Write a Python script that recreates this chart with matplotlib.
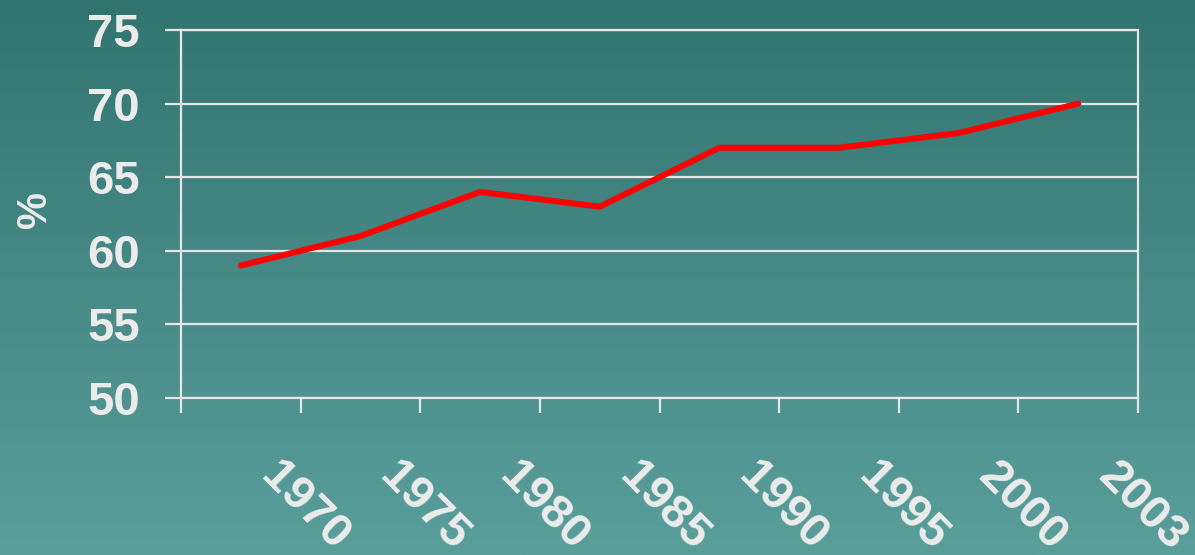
import matplotlib.pyplot as plt
import matplotlib.transforms as mtransforms
from matplotlib.colors import LinearSegmentedColormap
import numpy as np

years = ["1970", "1975", "1980", "1985", "1990", "1995", "2000", "2003"]
values = [59, 61, 64, 63, 67, 67, 68, 70]
y_ticks = [50, 55, 60, 65, 70, 75]

TXT = "#ebebeb"
LINE = "#e6e6e6"

plt.rcParams["font.family"] = ["Liberation Sans", "DejaVu Sans"]
plt.rcParams["font.weight"] = "bold"

fig = plt.figure(figsize=(11.95, 5.55), dpi=100)

# background gradient
bg = fig.add_axes([0, 0, 1, 1], zorder=-10)
cmap = LinearSegmentedColormap.from_list("bg", ["#327470", "#5a9e9b"])
bg.imshow(np.linspace(0, 1, 256).reshape(-1, 1), aspect="auto", cmap=cmap,
          extent=[0, 1, 0, 1])
bg.axis("off")

ax = fig.add_axes([181 / 1195, 1 - 398 / 555, (1138 - 181) / 1195, (398 - 30) / 555])
ax.patch.set_alpha(0)

x = np.arange(len(years))
ax.plot(x, values, color="#ff0000", lw=4.3, solid_capstyle="round",
        solid_joinstyle="round", zorder=5)

ax.set_xlim(-0.5, len(years) - 0.5)
ax.set_ylim(50, 75)
ax.set_yticks(y_ticks)
ax.yaxis.grid(True, color=LINE, lw=1.6)
ax.set_axisbelow(True)

for s in ax.spines.values():
    s.set_color(LINE)
    s.set_linewidth(1.6)

ax.tick_params(axis="y", colors=LINE, labelcolor=TXT, labelsize=34,
               length=11.5, width=1.6, pad=18)
ax.set_yticklabels([str(v) for v in y_ticks], fontweight="bold")

ax.set_xticks(x)
ax.set_xticks(np.arange(-0.5, len(years)), minor=True)
ax.tick_params(axis="x", which="minor", colors=LINE, length=11, width=1.6)
ax.tick_params(axis="x", which="major", length=0, labelcolor=TXT,
               labelsize=34, pad=40)
ax.set_xticklabels(years, rotation=-45, ha="left", va="top",
                   rotation_mode="anchor", fontweight="bold")
offset = mtransforms.ScaledTranslation(0.42, 0, fig.dpi_scale_trans)
for lab in ax.get_xticklabels():
    lab.set_transform(lab.get_transform() + offset)

fig.text(35 / 1195, 1 - 210 / 555, "%", rotation=90, ha="center", va="center",
         color=TXT, fontsize=30, fontweight="bold")

fig.savefig("out.png", dpi=100)
